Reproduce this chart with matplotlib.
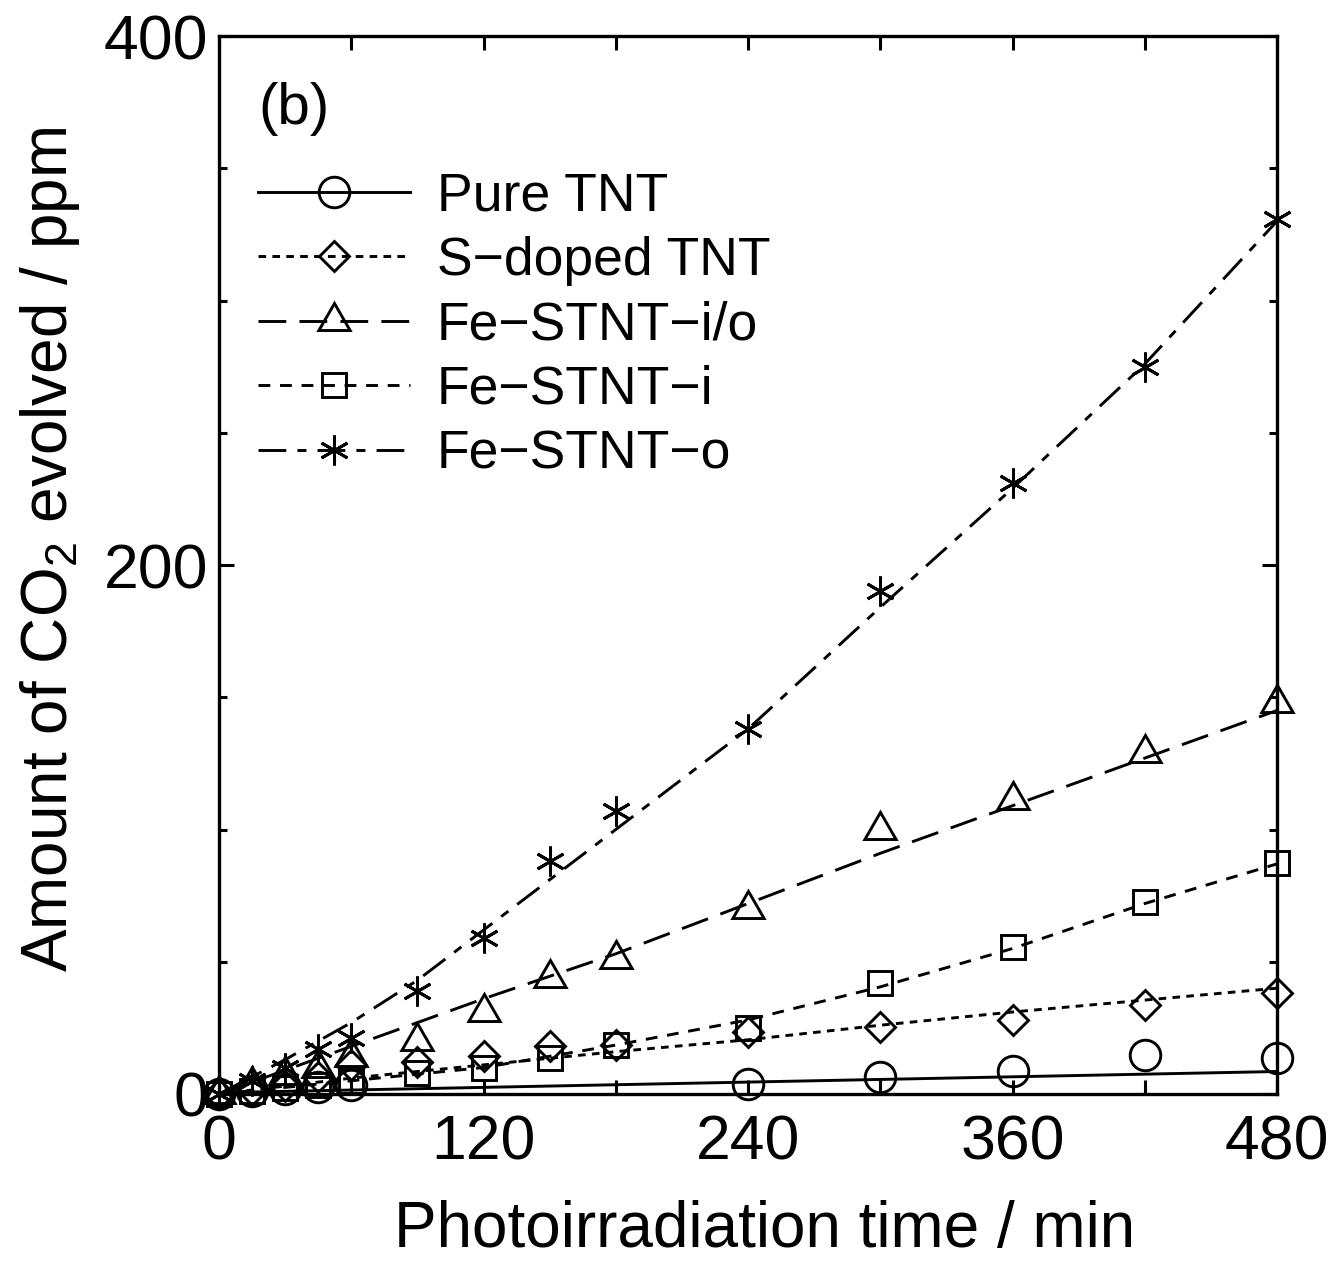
import matplotlib
matplotlib.use("Agg")
import matplotlib.pyplot as plt
from matplotlib.lines import Line2D
from matplotlib.ticker import MultipleLocator

plt.rcParams["font.family"] = ["Liberation Sans", "DejaVu Sans"]
plt.rcParams["mathtext.fontset"] = "custom"
plt.rcParams["mathtext.rm"] = "Liberation Sans"
plt.rcParams["lines.scale_dashes"] = False

# ===== Data =====
TIME = [0, 15, 30, 45, 60, 90, 120, 150, 180, 240, 300, 360, 420, 480]
TIME_PURE = [0, 15, 30, 45, 60, 240, 300, 360, 420, 480]

PURE_TNT = [0, 1, 2, 2.7, 3.4, 3.6, 6.5, 8.8, 14.8, 13.6]
S_DOPED = [0, 1.5, 3, 6.5, 11, 12, 14.5, 18, 18.5, 23.5, 25.5, 28, 33.6, 38]
FE_IO = [0, 3.5, 7, 10, 14, 20, 31, 44, 51, 70, 100, 111, 129, 148]
FE_I = [0, 1, 2.3, 3.4, 5, 8, 10, 13.5, 18.5, 25, 42, 55.6, 72.6, 87.5]
FE_O = [0, 5, 10, 17, 21, 39, 59, 88, 107, 138, 190, 231, 275, 331]

# fitted curves drawn through the data
FIT_PURE_T = [0, 480]
FIT_PURE = [0.5, 8.5]
FIT_T = [0, 60, 120, 180, 240, 300, 360, 420, 480]
FIT_S_DOPED = [0, 6, 11, 16, 20.5, 26, 31, 35.5, 40]
FIT_FE_I = [0, 5, 10, 18.5, 28, 40.5, 55, 72, 87]
FIT_FE_IO = [0, 18, 36, 53, 72, 91, 109, 127, 145]
FIT_FE_O_T = [0, 30, 60, 90, 120, 180, 240, 300, 360, 420, 480]
FIT_FE_O = [0, 13, 27, 43, 62, 100, 138, 184, 229, 276, 330]

LW = 2.1
MEW = 2.1

SERIES = [
    # label, x, y, fit x, fit y, marker, size, dashes
    ("Pure TNT", TIME_PURE, PURE_TNT, FIT_PURE_T, FIT_PURE, "o", 22, None),
    ("S\u2212doped TNT", TIME, S_DOPED, FIT_T, FIT_S_DOPED, "D", 15.5, (5.5, 4.5)),
    ("Fe\u2212STNT\u2212i/o", TIME, FE_IO, FIT_T, FIT_FE_IO, (3, 0, 0), 26, (20, 9.5)),
    ("Fe\u2212STNT\u2212i", TIME, FE_I, FIT_T, FIT_FE_I, "s", 17.5, (8.5, 7)),
    ("Fe\u2212STNT\u2212o", TIME, FE_O, FIT_FE_O_T, FIT_FE_O, (6, 2, 0), 21.5, (20, 8, 6.5, 8)),
]


def main() -> None:
    fig = plt.figure(figsize=(13.34, 12.64), dpi=100)
    ax = fig.add_axes([0.1642, 0.1345, 0.7931, 0.8370])

    handles = []
    for label, x, y, fx, fy, marker, ms, dashes in SERIES:
        line_kw = dict(color="black", linewidth=LW)
        if dashes is None:
            line_kw["linestyle"] = "-"
        else:
            line_kw["dashes"] = dashes
        ax.plot(fx, fy, **line_kw)
        ax.plot(x, y, linestyle="none", marker=marker, markersize=ms,
                markerfacecolor="none", markeredgecolor="black",
                markeredgewidth=MEW, clip_on=False)
        handles.append(Line2D([], [], marker=marker, markersize=ms,
                              markerfacecolor="none", markeredgecolor="black",
                              markeredgewidth=MEW, label=label, **line_kw))

    ax.set_xlim(0, 480)
    ax.set_ylim(0, 400)
    ax.xaxis.set_major_locator(MultipleLocator(120))
    ax.xaxis.set_minor_locator(MultipleLocator(60))
    ax.yaxis.set_major_locator(MultipleLocator(200))
    ax.yaxis.set_minor_locator(MultipleLocator(50))

    ax.tick_params(which="both", direction="in", top=True, right=True,
                   width=2.2, colors="black")
    ax.tick_params(axis="x", which="both", length=10, pad=14, labelsize=45)
    ax.tick_params(axis="y", which="major", length=11, pad=8, labelsize=45)
    ax.tick_params(axis="y", which="minor", length=6)
    for s in ax.spines.values():
        s.set_linewidth(2.4)

    ax.set_xlabel("Photoirradiation time / min", fontsize=46)
    ax.xaxis.set_label_coords(0.516, -0.1)
    ax.set_ylabel("Amount of CO$_2$ evolved / ppm", fontsize=46)
    ax.yaxis.set_label_coords(-0.1295, 0.515)

    ax.text(0.037, 0.957, "(b)", transform=ax.transAxes, fontsize=42,
            va="top", ha="left")

    ax.legend(handles=handles, loc="upper left", bbox_to_anchor=(0.017, 0.892),
              frameon=False, fontsize=38.5, handlelength=2.84, handletextpad=0.5,
              labelspacing=0.27, borderaxespad=0.0)

    fig.savefig("out.png", dpi=100)


if __name__ == "__main__":
    main()
